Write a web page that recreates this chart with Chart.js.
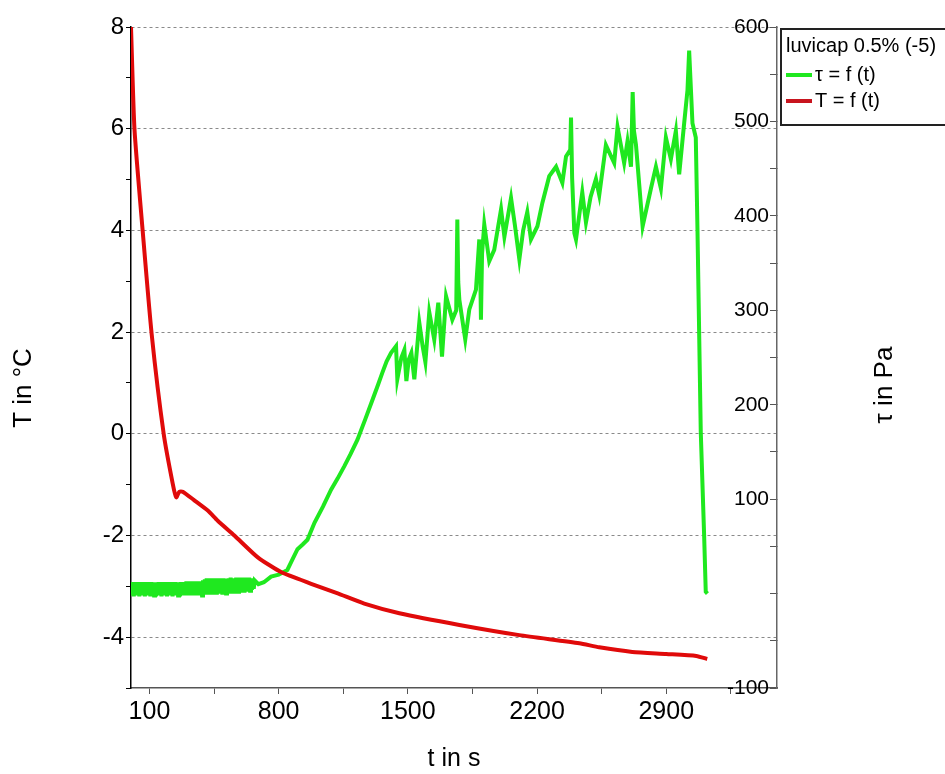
<!DOCTYPE html>
<html>
<head>
<meta charset="utf-8">
<script src="https://cdn.jsdelivr.net/npm/chart.js@4/dist/chart.umd.min.js"></script>
<style>
  body { margin: 0; background: #fff; }
  #chart { display: block; }
</style>
</head>
<body>
<canvas id="chart" width="945" height="774"></canvas>
<script>
// shear stress tau (Pa) over time t (s); the first part is the noisy band near zero
const tauTime = [
  0, 5, 10, 15, 20, 25, 30, 35, 40, 45, 50, 55, 60, 65, 70, 75, 80, 85, 90, 95,
  100, 105, 110, 115, 120, 125, 130, 135, 140, 145, 150, 155, 160, 165, 170, 175, 180, 185, 190, 195,
  200, 205, 210, 215, 220, 225, 230, 235, 240, 245, 250, 255, 260, 265, 270, 275, 280, 285, 290, 295,
  300, 305, 310, 315, 320, 325, 330, 335, 340, 345, 350, 355, 360, 365, 370, 375, 380, 385, 390, 395,
  400, 405, 410, 415, 420, 425, 430, 435, 440, 445, 450, 455, 460, 465, 470, 475, 480, 485, 490, 495,
  500, 505, 510, 515, 520, 525, 530, 535, 540, 545, 550, 555, 560, 565, 570, 575, 580, 585, 590, 595,
  600, 605, 610, 615, 620, 625, 630, 635, 640, 645, 650, 655, 660, 665, 670,
  690, 720, 759, 800, 847, 867, 902, 930, 956, 994, 1040, 1084, 1120, 1156, 1190, 1227, 1270, 1308,
  1340, 1362, 1385, 1409, 1436, 1443, 1465, 1481, 1492, 1505, 1519, 1535, 1562, 1580, 1595, 1616,
  1643, 1665, 1685, 1707, 1741, 1762, 1768, 1773, 1779, 1811, 1833, 1869, 1887, 1892, 1896, 1902,
  1914, 1941, 1968, 2005, 2023, 2059, 2080, 2104, 2125, 2147, 2167, 2202, 2229, 2266, 2303, 2337,
  2357, 2380, 2384, 2390, 2402, 2411, 2445, 2465, 2490, 2519, 2537, 2573, 2618, 2636, 2672, 2690,
  2709, 2718, 2725, 2736, 2772, 2817, 2844, 2871, 2898, 2925, 2952, 2970, 2997, 3015, 3024, 3042,
  3060, 3069, 3087, 3105, 3114, 3123
];
const tauValues = [
  11, -2, 12, -3, 11, -2, 12, -2, 11, -3, 12, -2, 11, -2, 12, -3, 11, -2, 12, -2,
  11, -3, 12, -2, 11, -2, 12, -3, 11, -2, 12, -2, 11, -3, 12, -2, 11, -2, 12, -3,
  11, -2, 12, -2, 11, -3, 12, -2, 12, -2, 11, -2, 12, -3, 12, -2, 11, -1, 12, -2,
  13, -2, 12, -1, 13, -2, 12, -1, 13, -2, 13, -1, 12, -2, 13, -1, 13, -2, 14, -1,
  15, -1, 16, 0, 15, -1, 16, 0, 15, -1, 16, 0, 16, -1, 15, 0, 16, 0, 16, -1,
  16, 0, 15, 0, 16, 1, 16, 0, 17, 0, 16, 1, 16, 0, 17, 1, 16, 0, 17, 1,
  17, 1, 16, 1, 17, 2, 17, 2, 17, 3, 16, 4, 16, 5, 14,
  10, 12, 18, 20, 25, 33, 47, 52, 57, 75, 92, 110, 122, 135, 148, 163, 185, 205,
  222, 234, 246, 255, 262, 227, 250, 258, 225, 248, 255, 227, 287, 262, 245, 298,
  269, 308, 251, 315, 290, 300, 396, 330, 311, 269, 301, 322, 375, 345, 290, 360,
  391, 352, 364, 407, 378, 419, 390, 354, 385, 404, 375, 389, 414, 442, 452, 435,
  463, 470, 504, 440, 382, 375, 425, 393, 420, 439, 422, 475, 456, 494, 456, 479,
  452, 531, 490, 475, 389, 429, 452, 429, 483, 460, 490, 444, 498, 533, 575, 498,
  483, 387, 171, 63, 2, 0
];

// temperature T (°C) over time t (s)
const tempTime = [0, 19, 64, 112, 177, 226, 245, 262, 280, 340, 416, 470, 560, 687, 813, 976, 1120, 1264, 1454, 1779, 2104, 2429, 2537, 2716, 2900, 3063, 3122];
const tempValues = [8, 5.98, 3.96, 1.96, 0, -0.98, -1.25, -1.14, -1.14, -1.3, -1.51, -1.71, -2.0, -2.43, -2.72, -2.95, -3.14, -3.34, -3.53, -3.76, -3.96, -4.12, -4.2, -4.29, -4.33, -4.37, -4.43];

const xTicks = [100, 450, 800, 1150, 1500, 1850, 2200, 2550, 2900, 3250];
const xLabelTicks = [100, 800, 1500, 2200, 2900];

const legendTitle = 'luvicap 0.5% (-5)';
const tauLabel = 'τ = f (t)';
const tempLabel = 'T = f (t)';
const xTitle = 't in s';
const leftTitle = 'T in °C';
const rightTitle = 'τ in Pa';

const GREEN = '#1fe81f';
const RED = '#e00a0a';
const SANS = "'Liberation Sans', Arial, sans-serif";

const tauData = tauTime.map((t, i) => ({ x: t, y: tauValues[i] }));
const tempData = tempTime.map((t, i) => ({ x: t, y: tempValues[i] }));

// axis titles on the sides + boxed legend, drawn by hand
const extras = {
  id: 'extras',
  afterDraw(chart) {
    const ctx = chart.ctx;
    ctx.save();
    ctx.fillStyle = '#000';
    ctx.font = '26px ' + SANS;
    ctx.textAlign = 'center';
    ctx.textBaseline = 'middle';
    [[leftTitle, 24, 388], [rightTitle, 885, 385]].forEach(([txt, x, y]) => {
      ctx.save();
      ctx.translate(x, y);
      ctx.rotate(-Math.PI / 2);
      ctx.fillText(txt, 0, 0);
      ctx.restore();
    });

    // legend box
    ctx.fillStyle = '#fff';
    ctx.fillRect(781, 29, 170, 96);
    ctx.strokeStyle = '#222';
    ctx.lineWidth = 2;
    ctx.strokeRect(781, 29, 170, 96);
    ctx.fillStyle = '#000';
    ctx.textAlign = 'left';
    ctx.textBaseline = 'alphabetic';
    ctx.font = '20px ' + SANS;
    ctx.fillText(legendTitle, 786, 52);
    const rows = [[tauLabel, GREEN, 75], [tempLabel, '#c8141e', 101]];
    rows.forEach(([txt, col, y]) => {
      ctx.strokeStyle = col;
      ctx.lineWidth = 4;
      ctx.beginPath();
      ctx.moveTo(786, y);
      ctx.lineTo(812, y);
      ctx.stroke();
      ctx.textBaseline = 'middle';
      ctx.fillText(txt, 815, y);
    });
    ctx.restore();
  }
};

new Chart(document.getElementById('chart'), {
  type: 'line',
  data: {
    datasets: [
      {
        label: tauLabel,
        data: tauData,
        yAxisID: 'yR',
        borderColor: GREEN,
        borderWidth: 4,
        pointRadius: 0,
        tension: 0,
        order: 2
      },
      {
        label: tempLabel,
        data: tempData,
        yAxisID: 'yL',
        borderColor: RED,
        borderWidth: 4,
        pointRadius: 0,
        tension: 0.2,
        order: 1
      }
    ]
  },
  options: {
    responsive: false,
    animation: false,
    layout: { autoPadding: false, padding: { top: 27, left: 0, right: 0, bottom: 0 } },
    plugins: { legend: { display: false }, tooltip: { enabled: false } },
    scales: {
      x: {
        type: 'linear',
        min: 0,
        max: 3500,
        afterFit: s => { s.height = 86; },
        afterBuildTicks: s => { s.ticks = xTicks.map(v => ({ value: v })); },
        border: { display: true, color: '#555', width: 1.5 },
        grid: { drawOnChartArea: false, drawTicks: true, tickLength: 6, tickColor: '#555' },
        ticks: {
          autoSkip: false,
          maxRotation: 0,
          padding: 3,
          color: '#000',
          font: { family: SANS, size: 25 },
          callback: v => xLabelTicks.includes(v) ? String(v) : ''
        },
        title: {
          display: true,
          text: xTitle,
          color: '#000',
          font: { family: SANS, size: 25 },
          padding: { top: 0, bottom: 0 }
        }
      },
      yL: {
        type: 'linear',
        position: 'left',
        min: -5,
        max: 8,
        afterFit: s => { s.width = 131; },
        border: { display: true, color: '#000', width: 1.5, dash: [3, 3] },
        grid: {
          color: c => (c.tick && c.tick.value % 2 === 0) ? '#8a8a8a' : 'rgba(0,0,0,0)',
          lineWidth: 1,
          tickLength: 5,
          tickColor: '#000'
        },
        ticks: {
          stepSize: 1,
          padding: 2,
          color: '#000',
          font: { family: SANS, size: 24 },
          callback: v => (v % 2 === 0) ? String(v) : ''
        }
      },
      yR: {
        type: 'linear',
        position: 'right',
        min: -100,
        max: 600,
        afterFit: s => { s.width = 168; },
        border: { display: true, color: '#666', width: 1.5 },
        grid: { drawOnChartArea: false, drawTicks: true, tickLength: -7, tickColor: '#555' },
        ticks: {
          stepSize: 50,
          mirror: true,
          padding: -8,
          color: '#000',
          font: { family: SANS, size: 21 },
          callback: v => (v % 100 === 0 && v !== 0) ? String(v) : ''
        }
      }
    }
  },
  plugins: [extras]
});
</script>
</body>
</html>
